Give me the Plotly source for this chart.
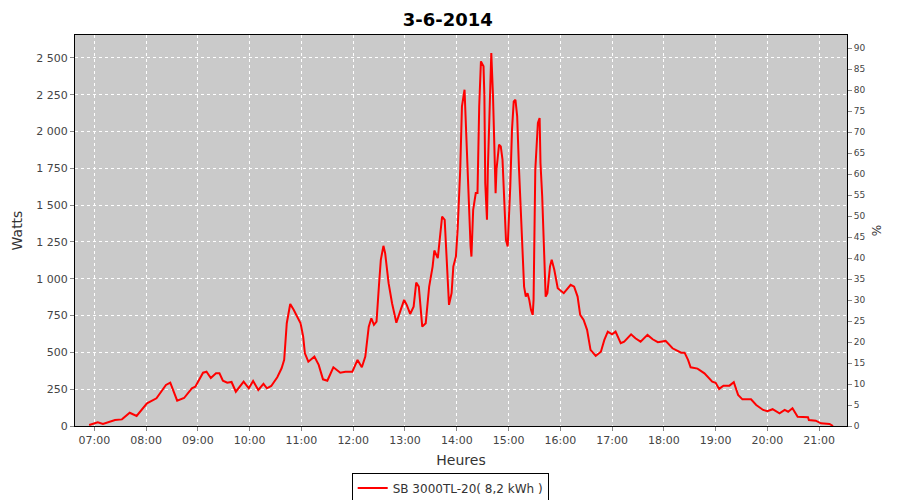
import plotly.graph_objects as go

DAY = "2014-06-03 "

times = [
    "06:54", "07:04", "07:10", "07:17", "07:24", "07:32", "07:41", "07:49", "08:01", "08:12",
    "08:23", "08:28", "08:36", "08:44", "08:53", "08:57", "09:06", "09:10", "09:15", "09:21",
    "09:25", "09:29", "09:34", "09:39", "09:44", "09:53", "09:59", "10:04", "10:10", "10:16",
    "10:20", "10:25", "10:32", "10:37", "10:40", "10:43", "10:47", "10:51", "10:55", "10:59",
    "11:02", "11:04", "11:08", "11:15", "11:20", "11:25", "11:30", "11:37", "11:45", "11:51",
    "11:59", "12:05", "12:10", "12:14", "12:18", "12:21", "12:24", "12:27", "12:30", "12:32",
    "12:35", "12:37", "12:41", "12:45", "12:50", "12:55", "12:59", "13:02", "13:06", "13:10",
    "13:13", "13:16", "13:20", "13:24", "13:28", "13:32", "13:34", "13:38", "13:43", "13:46",
    "13:48", "13:50", "13:51", "13:54", "13:56", "13:59", "14:01", "14:04", "14:06", "14:09",
    "14:11", "14:14", "14:16", "14:17", "14:19", "14:22", "14:24", "14:26", "14:28", "14:31",
    "14:32", "14:33", "14:35", "14:36", "14:38", "14:40", "14:42", "14:43", "14:45", "14:46",
    "14:49", "14:51", "14:53", "14:55", "14:57", "14:59", "15:00", "15:02", "15:04", "15:06",
    "15:08", "15:10", "15:12", "15:14", "15:16", "15:18", "15:20", "15:22", "15:24", "15:26",
    "15:28", "15:29", "15:31", "15:34", "15:36", "15:37", "15:39", "15:41", "15:43", "15:45",
    "15:48", "15:50", "15:53", "15:57", "16:04", "16:12", "16:16", "16:20", "16:23", "16:27",
    "16:31", "16:35", "16:41", "16:47", "16:51", "16:55", "17:00", "17:04", "17:10", "17:14",
    "17:22", "17:27", "17:33", "17:41", "17:47", "17:53", "18:02", "18:10", "18:20", "18:24",
    "18:28", "18:31", "18:39", "18:47", "18:53", "18:56", "19:00", "19:04", "19:09", "19:16",
    "19:21", "19:26", "19:31", "19:41", "19:47", "19:55", "20:00", "20:06", "20:14", "20:20",
    "20:24", "20:29", "20:35", "20:47", "20:48", "20:56", "21:02", "21:12", "21:16",
]

watts = [
    7, 25, 14, 29, 41, 45, 90, 68, 154, 188,
    279, 294, 172, 190, 256, 267, 362, 369, 326, 358,
    358, 308, 294, 299, 233, 301, 256, 306, 245, 286,
    256, 272, 331, 392, 449, 698, 829, 789, 739, 698,
    607, 494, 437, 471, 415, 317, 308, 399, 362, 369,
    369, 449, 399, 471, 675, 732, 687, 709, 970, 1129,
    1224, 1174, 970, 834, 702, 789, 857, 823, 761, 811,
    974, 947, 675, 698, 947, 1083, 1192, 1140, 1423, 1401,
    1174, 902, 823, 902, 1083, 1151, 1333, 1741, 2171, 2284,
    1967, 1514, 1219, 1151, 1469, 1582, 1582, 2171, 2477, 2443,
    2239, 1650, 1401, 1741, 2171, 2534, 2239, 1990, 1582, 1741,
    1911, 1899, 1809, 1537, 1265, 1219, 1333, 1627, 2013, 2205,
    2216, 2103, 1763, 1469, 1151, 947, 879, 902, 857, 789,
    755, 857, 1741, 2058, 2092, 1786, 1559, 1197, 879, 902,
    1083, 1129, 1061, 936, 902, 959, 947, 879, 755, 721,
    653, 517, 476, 505, 585, 641, 623, 641, 562, 573,
    623, 596, 573, 619, 589, 569, 578, 528, 498, 498,
    449, 399, 390, 358, 324, 301, 294, 252, 274, 274,
    297, 211, 181, 181, 143, 109, 100, 114, 86, 109,
    97, 120, 63, 59, 41, 36, 18, 14, 0,
]

series_name = "SB 3000TL-20( 8,2 kWh )"
title_text = "3-6-2014"
x_title = "Heures"
y_title = "Watts"
y2_title = "%"

x_vals = [DAY + t for t in times]

font_family = "DejaVu Sans, Verdana, sans-serif"
tick_color = "#444444"

fig = go.Figure()
fig.add_trace(go.Scatter(
    x=x_vals, y=watts, mode="lines", name=series_name,
    line=dict(color="#FF0000", width=2), showlegend=True,
))
# empty series bound to the right-hand percentage axis so that it is drawn
fig.add_trace(go.Scatter(
    x=[x_vals[0]], y=[None], yaxis="y2", mode="lines",
    showlegend=False, hoverinfo="skip",
))

grid = dict(showgrid=True, gridcolor="white", griddash="dot", gridwidth=1)

# the page adds an 8px body margin, so the figure is 892x492
fig.update_layout(
    width=892, height=492,
    paper_bgcolor="white", plot_bgcolor="#CACACA",
    margin=dict(l=67, r=53, t=27, b=74, autoexpand=False),
    separators=", ",
    font=dict(family=font_family, color=tick_color, size=11),
    title=dict(text="<b>" + title_text + "</b>", x=0.493, xref="container",
               y=0.9766, yref="container", yanchor="middle", xanchor="center",
               font=dict(size=18, color="black", family=font_family)),
    xaxis=dict(
        type="date", automargin=False,
        range=[DAY + "06:37:36", DAY + "21:32:12"],
        tickformat="%H:%M", dtick=3600000, tick0=DAY + "07:00",
        ticks="outside", ticklen=4, tickcolor="#888888",
        showline=True, linecolor="black", linewidth=1, mirror=True,
        title=dict(text=x_title, font=dict(size=14, color="#333333"), standoff=8),
        tickfont=dict(size=11, color=tick_color),
        zeroline=False, **grid,
    ),
    yaxis=dict(
        range=[0, 2656], dtick=250, tick0=0, separatethousands=True, automargin=False,
        ticks="outside", ticklen=4, tickcolor="#888888",
        showline=True, linecolor="black", linewidth=1, mirror=True,
        title=dict(text=y_title, font=dict(size=14, color="#333333"), standoff=10),
        tickfont=dict(size=11, color=tick_color),
        zeroline=False, **grid,
    ),
    yaxis2=dict(
        overlaying="y", side="right", range=[0, 93.1], dtick=5, tick0=0, automargin=False,
        ticks="outside", ticklen=4, tickcolor="#888888",
        showgrid=False, zeroline=False, showline=False,
        title=dict(text=y2_title, font=dict(size=12, color="#333333"), standoff=8),
        tickfont=dict(size=9, color=tick_color),
    ),
    legend=dict(
        orientation="h", x=0.486, xanchor="center", y=-0.1586, yanchor="middle",
        bordercolor="black", borderwidth=1, bgcolor="white",
        font=dict(size=12, color="#333333"), itemwidth=30,
    ),
)

fig.write_html("out.html")
